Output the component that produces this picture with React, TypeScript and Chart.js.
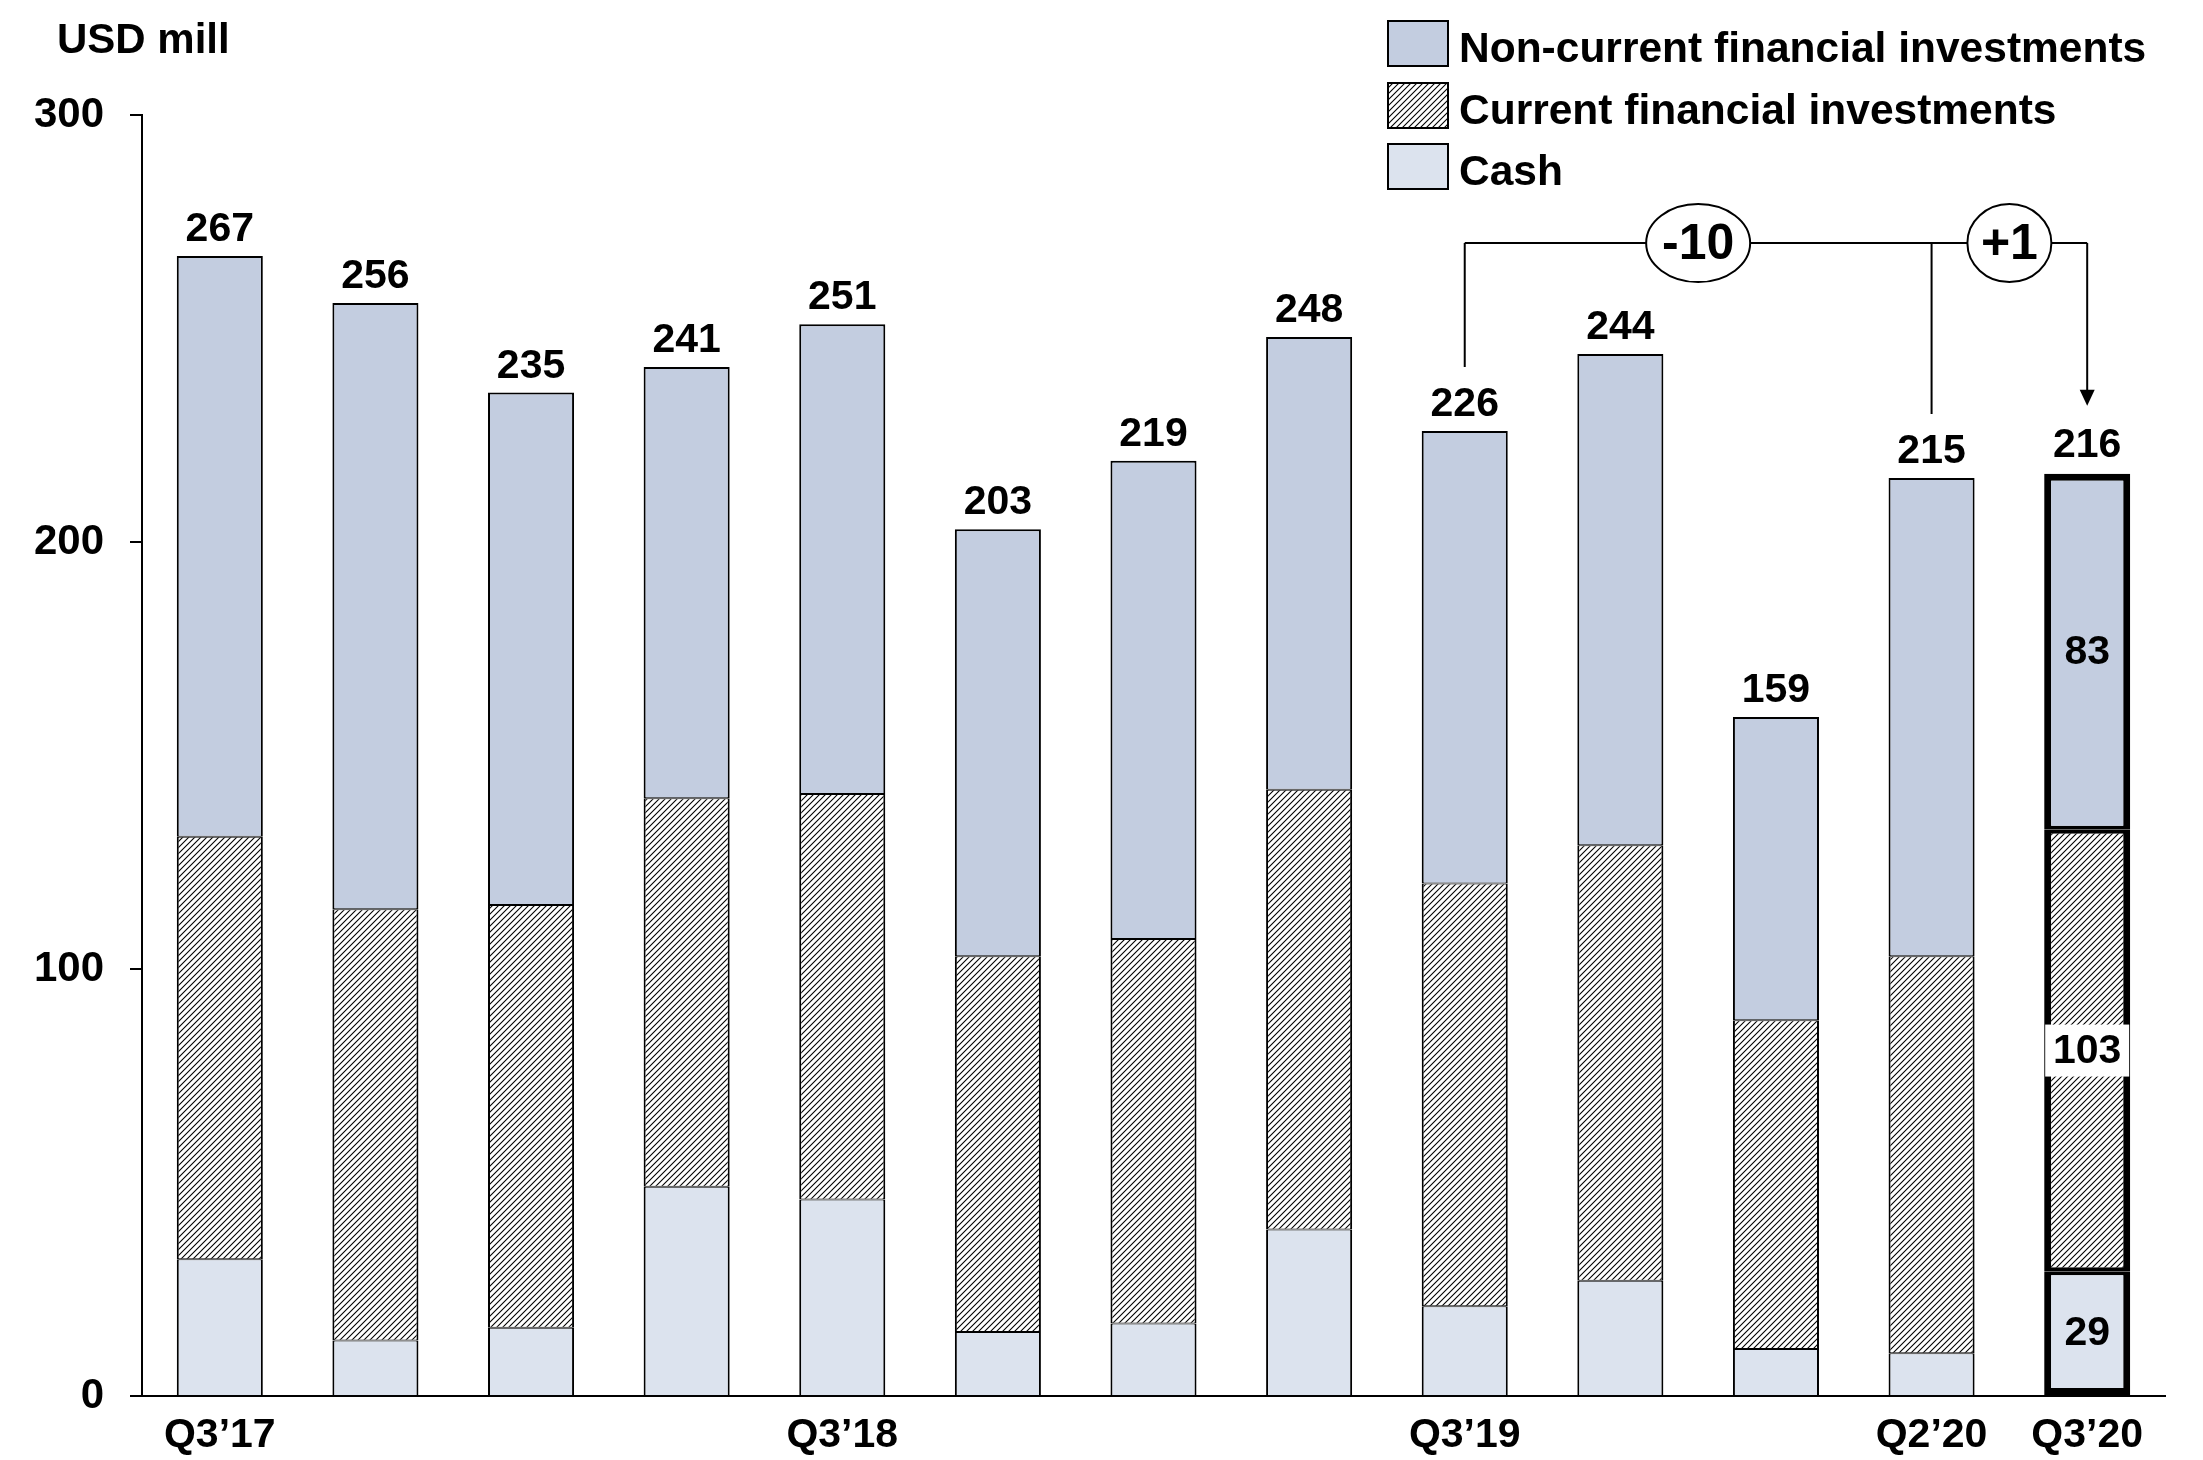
import React, { useEffect, useRef } from "react";
import { Chart, registerables } from "chart.js";

Chart.register(...registerables);

const FONT = '"Liberation Sans", Arial, Helvetica, sans-serif';

// Quarter-end balances, USD mill
const quarters = [
  "Q3’17", "Q4’17", "Q1’18", "Q2’18", "Q3’18", "Q4’18", "Q1’19",
  "Q2’19", "Q3’19", "Q4’19", "Q1’20", "Q2’20", "Q3’20",
];
const axisLabels = [
  "Q3’17", "", "", "", "Q3’18", "", "", "", "Q3’19", "", "", "Q2’20", "Q3’20",
];
const cash = [32, 13, 16, 49, 46, 15, 17, 39, 21, 27, 11, 10, 29.2];
const currentInvestments = [99, 101, 99, 91, 95, 88, 90, 103, 99, 102, 77, 93, 103.4];
const nonCurrentInvestments = [136, 142, 120, 101, 110, 100, 112, 106, 106, 115, 71, 112, 83.4];

const seriesNames = ["Cash", "Current financial investments", "Non-current financial investments"];
const yMax = 300;
const yStep = 100;

// Comparison brackets: start indices, and the index they all point to
const compareFrom = [8, 11];
const compareTo = 12;
const bracketLevel = 270;

const NC_COLOR = "#C3CDE0";
const CASH_COLOR = "#DCE3EE";

function makeHatch(): CanvasPattern | string {
  const size = 6;
  const c = document.createElement("canvas");
  c.width = size;
  c.height = size;
  const g = c.getContext("2d");
  if (!g) return "#888";
  g.fillStyle = "#fff";
  g.fillRect(0, 0, size, size);
  g.strokeStyle = "#000";
  g.lineWidth = 1.1;
  g.beginPath();
  g.moveTo(-1, size + 1);
  g.lineTo(size + 1, -1);
  g.moveTo(-1, 1);
  g.lineTo(1, -1);
  g.moveTo(size - 1, size + 1);
  g.lineTo(size + 1, size - 1);
  g.stroke();
  const p = g.createPattern(c, "repeat");
  return p || "#888";
}

const totals = quarters.map((_, i) => cash[i] + currentInvestments[i] + nonCurrentInvestments[i]);

export default function App() {
  const canvasRef = useRef<HTMLCanvasElement | null>(null);

  useEffect(() => {
    const canvas = canvasRef.current;
    if (!canvas) return;
    const hatch = makeHatch();
    const last = quarters.length - 1;

    const borderFor = (datasetIndex: number) => (ctx: any) => {
      const i = ctx.dataIndex;
      if (i === last) {
        return {
          left: 7,
          right: 7,
          top: datasetIndex === 2 ? 7 : 4,
          bottom: datasetIndex === 0 ? 7 : 4,
        };
      }
      return {
        left: 2,
        right: 2,
        top: datasetIndex === 2 ? 2 : 1,
        bottom: datasetIndex === 0 ? 0 : 1,
      };
    };

    const overlay = {
      id: "overlay",
      afterDatasetsDraw(chart: any) {
        const ctx: CanvasRenderingContext2D = chart.ctx;
        const y = chart.scales.y;
        const topMeta = chart.getDatasetMeta(2);
        ctx.save();
        ctx.fillStyle = "#000";
        ctx.textAlign = "center";
        ctx.textBaseline = "alphabetic";
        ctx.font = `bold 41px ${FONT}`;

        // totals above each bar
        topMeta.data.forEach((bar: any, i: number) => {
          const py = y.getPixelForValue(totals[i]);
          ctx.fillText(String(Math.round(totals[i])), bar.x, py - (i === last ? 17 : 15));
        });

        // segment values inside the latest bar
        [0, 1, 2].forEach((d) => {
          const el: any = chart.getDatasetMeta(d).data[last];
          const cy = (el.y + el.base) / 2;
          const txt = String(Math.round(chart.data.datasets[d].data[last]));
          if (d === 1) {
            ctx.fillStyle = "#fff";
            ctx.fillRect(el.x - 42, cy - 26, 84, 52);
          }
          ctx.fillStyle = "#000";
          ctx.textBaseline = "middle";
          ctx.fillText(txt, el.x, cy + 1);
        });

        // comparison brackets
        const ly = y.getPixelForValue(bracketLevel);
        const xTo = topMeta.data[compareTo].x;
        const xs = compareFrom.map((i) => topMeta.data[i].x);
        ctx.strokeStyle = "#000";
        ctx.lineWidth = 2;
        ctx.beginPath();
        ctx.moveTo(xs[0], ly);
        ctx.lineTo(xTo, ly);
        compareFrom.forEach((i, k) => {
          const barTop = y.getPixelForValue(totals[i]);
          ctx.moveTo(xs[k], ly);
          ctx.lineTo(xs[k], barTop - 64);
        });
        const tip = y.getPixelForValue(totals[compareTo]) - 68;
        ctx.moveTo(xTo, ly);
        ctx.lineTo(xTo, tip - 14);
        ctx.stroke();
        ctx.beginPath();
        ctx.moveTo(xTo, tip);
        ctx.lineTo(xTo - 7.5, tip - 16);
        ctx.lineTo(xTo + 7.5, tip - 16);
        ctx.closePath();
        ctx.fill();

        compareFrom.forEach((i, k) => {
          const diff = Math.round(totals[compareTo]) - Math.round(totals[i]);
          const label = diff > 0 ? `+${diff}` : String(diff);
          const nextX = k + 1 < xs.length ? xs[k + 1] : xTo;
          const cx = (xs[k] + nextX) / 2;
          const rx = label.length > 2 ? 52 : 42;
          ctx.beginPath();
          ctx.ellipse(cx, ly, rx, 39, 0, 0, Math.PI * 2);
          ctx.fillStyle = "#fff";
          ctx.fill();
          ctx.lineWidth = 2;
          ctx.stroke();
          ctx.fillStyle = "#000";
          ctx.font = `bold 50px ${FONT}`;
          ctx.textBaseline = "alphabetic";
          ctx.fillText(label, cx, ly + 16);
        });
        ctx.restore();
      },
      afterDraw(chart: any) {
        const ctx: CanvasRenderingContext2D = chart.ctx;
        ctx.save();
        ctx.fillStyle = "#000";
        ctx.font = `bold 42px ${FONT}`;
        ctx.textAlign = "left";
        ctx.textBaseline = "alphabetic";
        ctx.fillText("USD mill", 57, 53);

        // legend, top series first
        const fills = [NC_COLOR, hatch, CASH_COLOR];
        const names = [seriesNames[2], seriesNames[1], seriesNames[0]];
        const boxTops = [21, 83, 144];
        names.forEach((name, k) => {
          const by = boxTops[k];
          ctx.fillStyle = fills[k] as any;
          ctx.fillRect(1388, by, 60, 45);
          ctx.strokeStyle = "#000";
          ctx.lineWidth = 2;
          ctx.strokeRect(1388, by, 60, 45);
          ctx.fillStyle = "#000";
          ctx.font = `bold 42.5px ${FONT}`;
          ctx.fillText(name, 1459, by + 41);
        });
        ctx.restore();
      },
    };

    const chart = new Chart(canvas, {
      type: "bar",
      data: {
        labels: axisLabels,
        datasets: [
          { label: seriesNames[0], data: cash, backgroundColor: CASH_COLOR, borderWidth: borderFor(0) as any },
          { label: seriesNames[1], data: currentInvestments, backgroundColor: hatch as any, borderWidth: borderFor(1) as any },
          { label: seriesNames[2], data: nonCurrentInvestments, backgroundColor: NC_COLOR, borderWidth: borderFor(2) as any },
        ],
      },
      options: {
        animation: false,
        responsive: false,
        maintainAspectRatio: false,
        layout: { padding: { top: 115, left: 0, right: 38, bottom: 0 } },
        datasets: {
          bar: {
            borderColor: "#000",
            borderSkipped: false,
            barPercentage: 0.553,
            categoryPercentage: 1,
          },
        },
        plugins: {
          legend: { display: false },
          tooltip: { enabled: false },
        },
        scales: {
          x: {
            stacked: true,
            grid: { display: false, drawTicks: false },
            border: { display: true, color: "#000", width: 2 },
            ticks: {
              color: "#000",
              font: { family: FONT, size: 41, weight: "bold" },
              padding: 15,
              autoSkip: false,
              maxRotation: 0,
            },
            afterFit: (s: any) => {
              s.height = 64;
            },
          },
          y: {
            stacked: true,
            min: 0,
            max: yMax,
            grid: {
              display: true,
              drawOnChartArea: false,
              drawTicks: true,
              tickLength: 12,
              color: "#000",
              lineWidth: 2,
            },
            border: { display: true, color: "#000", width: 2 },
            ticks: {
              stepSize: yStep,
              color: "#000",
              font: { family: FONT, size: 42, weight: "bold" },
              padding: 26,
            },
            afterFit: (s: any) => {
              s.width = 142;
            },
          },
        },
      },
      plugins: [overlay],
    });

    return () => chart.destroy();
  }, []);

  return (
    <div style={{ position: "absolute", left: 0, top: 0, width: 2203, height: 1460, background: "#fff" }}>
      <canvas ref={canvasRef} width={2203} height={1460} style={{ display: "block", width: 2203, height: 1460 }} />
    </div>
  );
}
